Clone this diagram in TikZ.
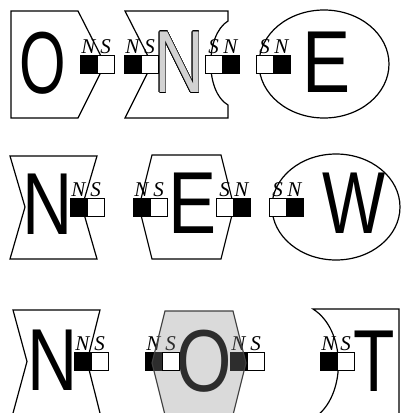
\documentclass[tikz,border=0pt]{standalone}
\usepackage{fontspec}
\usepackage{tikz}
\usetikzlibrary{positioning}
\usepackage{xcolor}
\usepackage{contour}
\newfontfamily\tilefont{Liberation Sans}
\newfontfamily\polefont{Liberation Serif}
\contourlength{0.7pt}
\pgfdeclarelayer{shade}
\pgfdeclarelayer{front}
\pgfsetlayers{main,shade,front}

\begin{document}
\begin{tikzpicture}[
    x=1pt, y=-1pt,
    tile/.style={draw, line width=1.2pt, fill=white},
    letter/.style={font=\tilefont\fontsize{88}{88}\selectfont, inner sep=0pt, xscale=#1},
    letter/.default=0.78,
    northpole/.style={draw, fill=black, line width=1pt, minimum width=17pt, minimum height=18pt, inner sep=0pt, outer sep=0pt},
    southpole/.style={northpole, fill=white},
    polelabel/.style={font=\polefont\itshape\fontsize{21}{21}\selectfont, inner sep=0pt}
]
\useasboundingbox (0,0) rectangle (401,413);

% row 1: O N E
\draw[tile] (11,11) -- (78,11) -- (105,64) -- (78,118) -- (11,118) -- cycle;
\draw[tile] (125,11) -- (228,11) -- (228,21) .. controls (205,35) and (205,92) .. (228,105) -- (228,118) -- (125,118) -- (152,64) -- cycle;
\draw[tile] (324,64) ellipse [x radius=65, y radius=54];

\node[letter=0.68] (o1) at (43,63.5) {O};
\node[letter=0.79] (n1) at (179.5,62.5) {\contour{black}{\textcolor{gray!35}{N}}};
\node[letter=0.82] (e1) at (326.5,62.5) {E};

\node[northpole] (m1n) at (88.5,64) {};
\node[southpole, right=0pt of m1n] (m1s) {};
\node[northpole] (m2n) at (132.5,64) {};
\node[southpole, right=0pt of m2n] (m2s) {};
\node[southpole] (m3s) at (213.5,64) {};
\node[northpole, right=0pt of m3s] (m3n) {};
\node[southpole] (m4s) at (264.5,64) {};
\node[northpole, right=0pt of m4s] (m4n) {};

% row 2: N E W
\draw[tile] (10,156) -- (97,156) -- (82,207) -- (97,259) -- (10,259) -- (25,207) -- cycle;
\draw[tile] (152,155) -- (221,155) -- (234,207) -- (221,259) -- (152,259) -- (139,207) -- cycle;
\draw[tile] (336,207) ellipse [x radius=64, y radius=53];

\node[letter=0.79] (n2) at (48,204) {N};
\node[letter=0.82] (e2) at (193,203.5) {E};
\node[letter=0.76] (w2) at (354,203.5) {W};

\node[northpole] (m5n) at (78.5,207) {};
\node[southpole, right=0pt of m5n] (m5s) {};
\node[northpole] (m6n) at (141.5,207) {};
\node[southpole, right=0pt of m6n] (m6s) {};
\node[southpole] (m7s) at (224.5,207) {};
\node[northpole, right=0pt of m7s] (m7n) {};
\node[southpole] (m8s) at (277.5,207) {};
\node[northpole, right=0pt of m8s] (m8n) {};

% row 3: N O T
\draw[tile] (13,310) -- (100,310) -- (87,361.5) -- (100.5,415) -- (12.5,415) -- (27,361.5) -- cycle;
\draw[tile] (313,309) -- (399,309) -- (399,415) -- (318,415) .. controls (346,392) and (346,330) .. cycle;

\node[letter=0.79] (n3) at (52.5,360) {N};
\node[letter=0.81] (o3) at (204,361) {O};
\node[letter=0.77] (t3) at (374,361) {T};

\node[northpole] (m9n) at (82.5,361.5) {};
\node[southpole, right=0pt of m9n] (m9s) {};
\node[northpole] (m10n) at (153.5,361.5) {};
\node[northpole] (m11n) at (238.5,361.5) {};
\node[northpole] (m12n) at (328.5,361.5) {};
\node[southpole, right=0pt of m12n] (m12s) {};

\begin{pgfonlayer}{front}
\node[southpole, right=0pt of m10n] (m10s) {};
\node[southpole, right=0pt of m11n] (m11s) {};
\end{pgfonlayer}

\begin{pgfonlayer}{shade}
\draw[line width=1.2pt, draw=black!75, fill=black!45, fill opacity=0.32] (165,311) -- (233,311) -- (246,363) -- (233,415) -- (165,415) -- (152,363) -- cycle;
\end{pgfonlayer}

% pole labels
\foreach \m in {m1n,m2n,m3n,m4n,m5n,m6n,m7n,m8n,m9n,m10n,m11n,m12n}
  \node[polelabel, above=1.5pt of \m] {N};
\foreach \m in {m1s,m2s,m3s,m4s,m5s,m6s,m7s,m8s,m9s,m10s,m11s,m12s}
  \node[polelabel, above=1.5pt of \m] {S};

\end{tikzpicture}
\end{document}
